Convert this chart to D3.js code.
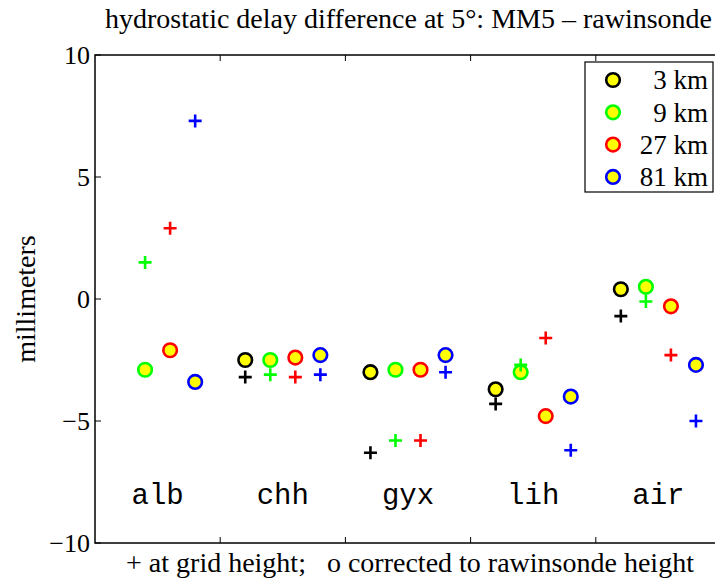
<!DOCTYPE html>
<html lang="en">
<head>
  <meta charset="UTF-8">
  <title>Hydrostatic delay difference</title>
  <script src="https://d3js.org/d3.v7.min.js"></script>
  <style>
    body { margin: 0; background: #fff; }
    svg { display: block; background: #fff; }
    .serif { font-family: "Liberation Serif", "Times New Roman", serif; fill: #000; }
    .mono { font-family: "Liberation Mono", "Courier New", monospace; fill: #000; }
  </style>
</head>
<body>
  <svg width="715" height="578"></svg>
  <script>
    const width = 715;
    const height = 578;

    // Data
    const stations = ["alb", "chh", "gyx", "lih", "air"];
    const resolutions = ["3 km", "9 km", "27 km", "81 km"];
    const colors = ["#000000", "#00ff00", "#ff0000", "#0000ff"];
    // corrected to rawinsonde height (circles), one array per resolution
    const corr3 = [null, -2.5, -3.0, -3.7, 0.4];
    const corr9 = [-2.9, -2.5, -2.9, -3.0, 0.5];
    const corr27 = [-2.1, -2.4, -2.9, -4.8, -0.3];
    const corr81 = [-3.4, -2.3, -2.3, -4.0, -2.7];
    // at grid height (plus signs)
    const grid3 = [null, -3.2, -6.3, -4.3, -0.7];
    const grid9 = [1.5, -3.1, -5.8, -2.7, -0.1];
    const grid27 = [2.9, -3.2, -5.8, -1.6, -2.3];
    const grid81 = [7.3, -3.1, -3.0, -6.2, -5.0];
    const yTicks = [-10, -5, 0, 5, 10];
    const xTicks = [1, 2, 3, 4];

    const corrected = [corr3, corr9, corr27, corr81];
    const gridH = [grid3, grid9, grid27, grid81];

    const plot = { left: 95, right: 721, top: 55, bottom: 543 };

    const svg = d3.select("svg");

    const x = d3.scaleLinear().domain([0, 5]).range([plot.left, plot.right]);
    const y = d3.scaleLinear().domain([-10, 10]).range([plot.bottom, plot.top]);

    // flatten into points
    const circles = [];
    const pluses = [];
    resolutions.forEach((r, k) => {
      stations.forEach((s, i) => {
        const xv = i + 0.2 * (k + 1);
        if (corrected[k][i] != null) circles.push({ x: xv, v: corrected[k][i], c: colors[k] });
        if (gridH[k][i] != null) pluses.push({ x: xv, v: gridH[k][i], c: colors[k] });
      });
    });

    // axes box
    svg.append("rect")
      .attr("x", plot.left).attr("y", plot.top)
      .attr("width", plot.right - plot.left).attr("height", plot.bottom - plot.top)
      .attr("fill", "none").attr("stroke", "#000").attr("stroke-width", 1.5);

    const tickLen = 6;
    const fmt = d => d < 0 ? "\u2212" + Math.abs(d) : String(d);

    // y axis (left + mirrored right)
    const yAxis = svg.append("g").attr("class", "axis");
    yAxis.selectAll("line.l").data(yTicks).join("line")
      .attr("x1", plot.left).attr("x2", plot.left + tickLen)
      .attr("y1", d => y(d)).attr("y2", d => y(d))
      .attr("stroke", "#000").attr("stroke-width", 1);
    yAxis.selectAll("line.r").data(yTicks).join("line")
      .attr("x1", plot.right).attr("x2", plot.right - tickLen)
      .attr("y1", d => y(d)).attr("y2", d => y(d))
      .attr("stroke", "#000").attr("stroke-width", 1);
    yAxis.selectAll("text").data(yTicks).join("text")
      .attr("class", "serif")
      .attr("x", plot.left - 5)
      .attr("y", d => y(d))
      .attr("dy", "0.35em")
      .attr("text-anchor", "end")
      .style("font-size", "26px")
      .text(fmt);

    // x ticks (bottom + top)
    svg.selectAll("line.xb").data(xTicks).join("line")
      .attr("x1", d => x(d)).attr("x2", d => x(d))
      .attr("y1", plot.bottom).attr("y2", plot.bottom - tickLen)
      .attr("stroke", "#000").attr("stroke-width", 1);
    svg.selectAll("line.xt").data(xTicks).join("line")
      .attr("x1", d => x(d)).attr("x2", d => x(d))
      .attr("y1", plot.top).attr("y2", plot.top + tickLen)
      .attr("stroke", "#000").attr("stroke-width", 1);

    // station labels
    svg.selectAll("text.station").data(stations).join("text")
      .attr("class", "mono")
      .attr("x", (d, i) => x(i + 0.5))
      .attr("y", y(-8))
      .attr("dy", "0.35em")
      .attr("text-anchor", "middle")
      .style("font-size", "29px")
      .style("font-weight", "300")
      .text(d => d);

    // markers: circles
    svg.append("g").selectAll("circle").data(circles).join("circle")
      .attr("cx", d => x(d.x))
      .attr("cy", d => y(d.v))
      .attr("r", 6.8)
      .attr("fill", "#ffff00")
      .attr("stroke", d => d.c)
      .attr("stroke-width", 2.6);

    // markers: plus signs
    const ps = 6.5;
    svg.append("g").selectAll("path").data(pluses).join("path")
      .attr("d", d => {
        const cx = x(d.x), cy = y(d.v);
        return `M${cx - ps},${cy}H${cx + ps}M${cx},${cy - ps}V${cy + ps}`;
      })
      .attr("fill", "none")
      .attr("stroke", d => d.c)
      .attr("stroke-width", 2.6);

    // title
    svg.append("text")
      .attr("class", "serif")
      .attr("x", 712)
      .attr("y", 28)
      .attr("text-anchor", "end")
      .style("font-size", "28px")
      .text("hydrostatic delay difference at 5\u00b0: MM5 \u2013 rawinsonde");

    // x label
    svg.append("text")
      .attr("class", "serif")
      .attr("x", 410)
      .attr("y", 572)
      .attr("text-anchor", "middle")
      .attr("xml:space", "preserve")
      .style("white-space", "pre")
      .style("font-size", "28px")
      .text("+ at grid height;   o corrected to rawinsonde height");

    // y label
    svg.append("text")
      .attr("class", "serif")
      .attr("transform", `translate(35,${y(0)}) rotate(-90)`)
      .attr("text-anchor", "middle")
      .style("font-size", "28px")
      .text("millimeters");

    // legend
    const lg = { x: 585, y: 62, w: 128, h: 130 };
    const legend = svg.append("g");
    legend.append("rect")
      .attr("x", lg.x).attr("y", lg.y).attr("width", lg.w).attr("height", lg.h)
      .attr("fill", "#fff").attr("stroke", "#000").attr("stroke-width", 1.2);
    const rows = legend.selectAll("g.row").data(resolutions).join("g")
      .attr("transform", (d, i) => `translate(0,${lg.y + 18 + i * 32.3})`);
    rows.append("circle")
      .attr("cx", 613).attr("cy", 0).attr("r", 6.8)
      .attr("fill", "#ffff00")
      .attr("stroke", (d, i) => colors[i])
      .attr("stroke-width", 2.6);
    rows.append("text")
      .attr("class", "serif")
      .attr("x", 708).attr("y", 0).attr("dy", "0.35em")
      .attr("text-anchor", "end")
      .style("font-size", "27px")
      .text(d => d);
  </script>
</body>
</html>
